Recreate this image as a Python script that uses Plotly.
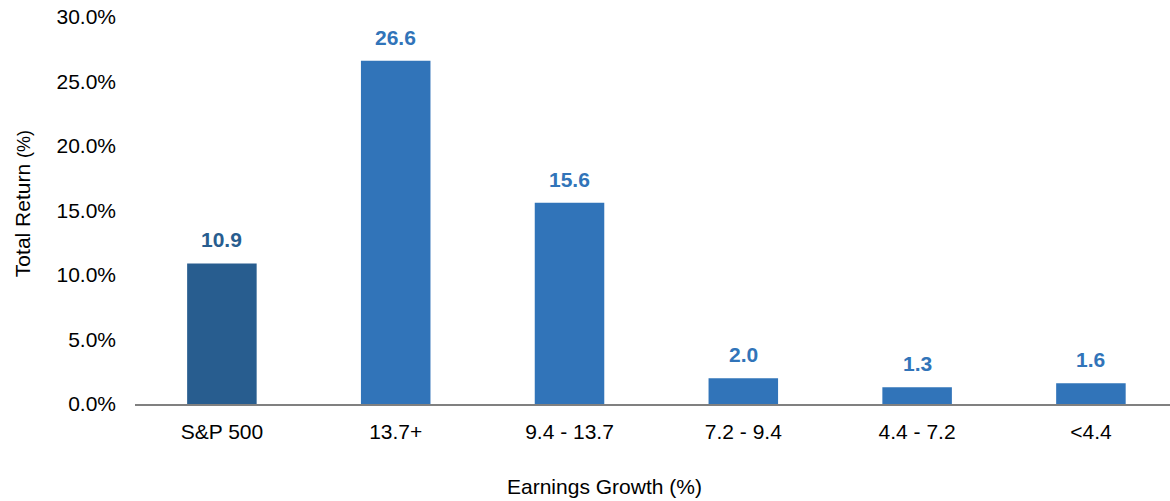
import plotly.graph_objects as go

categories = ["S&P 500", "13.7+", "9.4 - 13.7", "7.2 - 9.4", "4.4 - 7.2", "<4.4"]
values = [10.9, 26.6, 15.6, 2.0, 1.3, 1.6]
bar_colors = ["#285d8f", "#3174b9", "#3174b9", "#3174b9", "#3174b9", "#3174b9"]
y_ticks = [0, 5, 10, 15, 20, 25, 30]
y_tick_labels = ["0.0%", "5.0%", "10.0%", "15.0%", "20.0%", "25.0%", "30.0%"]

FONT = "Liberation Sans, Arial, sans-serif"

fig = go.Figure()
fig.add_trace(go.Bar(
    x=list(range(len(categories))),
    y=values,
    marker=dict(color=bar_colors, line=dict(width=0)),
    width=0.4,
    hoverinfo="skip",
    cliponaxis=False,
))

for i, v in enumerate(values):
    fig.add_annotation(
        x=i, y=v, xref="x", yref="y",
        text=f"<b>{v:.1f}</b>",
        showarrow=False, yanchor="bottom", yshift=10,
        font=dict(family=FONT, size=21, color=bar_colors[i]),
    )

fig.add_annotation(
    x=0.4541, y=-0.212, xref="paper", yref="paper",
    text="Earnings Growth (%)", showarrow=False,
    xanchor="center", yanchor="middle",
    font=dict(family=FONT, size=21, color="#000000"),
)
fig.add_annotation(
    x=-0.1092, y=0.519, xref="paper", yref="paper",
    text="Total Return&nbsp;<span style='font-size:18px'>(%)</span>", showarrow=False, textangle=-90,
    xanchor="center", yanchor="middle",
    font=dict(family=FONT, size=21, color="#000000"),
)

fig.update_layout(
    width=1170, height=501,
    margin=dict(l=135, r=0, t=17, b=97),
    paper_bgcolor="white", plot_bgcolor="white",
    showlegend=False,
    font=dict(family=FONT, size=21, color="#000000"),
    xaxis=dict(
        tickmode="array",
        tickvals=list(range(len(categories))),
        ticktext=categories,
        range=[-0.5, 5.455],
        showline=True, linecolor="#808080", linewidth=1.5,
        showgrid=False, zeroline=False, ticks="",
        ticklabelstandoff=8,
        tickfont=dict(family=FONT, size=21, color="#000000"),
        fixedrange=True,
    ),
    yaxis=dict(
        range=[0, 30],
        tickmode="array", tickvals=y_ticks, ticktext=y_tick_labels,
        showgrid=False, zeroline=False, showline=False, ticks="",
        ticklabelstandoff=18,
        ticklabeloverflow="allow",
        tickfont=dict(family=FONT, size=21, color="#000000"),
        fixedrange=True,
    ),
)

fig.write_html(
    "out.html",
    config={"displayModeBar": False},
    post_script="document.body.style.margin='0';document.body.style.overflow='hidden';",
)
